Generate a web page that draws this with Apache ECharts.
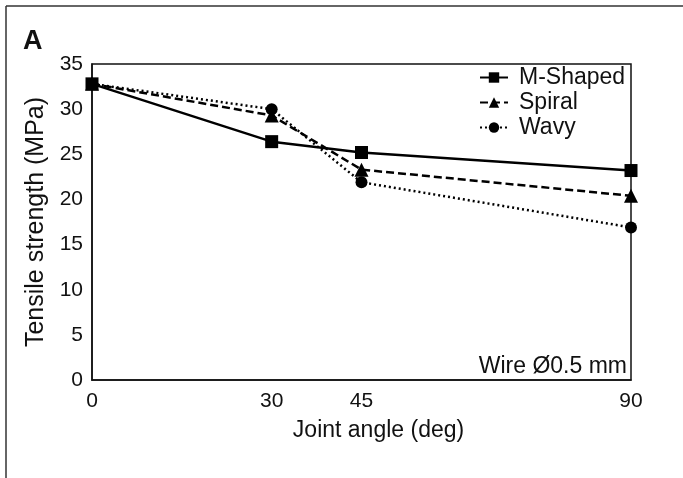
<!DOCTYPE html>
<html>
<head>
<meta charset="utf-8">
<script src="https://cdn.jsdelivr.net/npm/echarts@6/dist/echarts.min.js"></script>
<style>
  html, body { margin: 0; padding: 0; background: #fff; }
  #container { width: 683px; height: 478px; }
</style>
</head>
<body>
<div id="container"></div>
<script>
var dom = document.getElementById("container");
var myChart = echarts.init(dom);
var option;

// joint angles (deg) and the tick labels shown on the x axis
var angles = [0, 30, 45, 90];
var xTicks = [0, 30, 45, 90];

// tensile strength (MPa)
var mShaped = [32.8, 26.4, 25.2, 23.2];
var spiral = [32.8, 29.3, 23.3, 20.4];
var wavy = [32.8, 30.0, 21.9, 16.9];

var seriesNames = ["M-Shaped", "Spiral", "Wavy"];

var font = "'Liberation Sans', Arial, Helvetica, sans-serif";

function toPairs(values) {
  var out = [];
  for (var i = 0; i < angles.length; i++) {
    out.push([angles[i], values[i]]);
  }
  return out;
}

function makeSeries(name, values, lineType, symbol, size) {
  return {
    name: name,
    type: "line",
    data: toPairs(values),
    symbol: symbol,
    symbolSize: size,
    showSymbol: true,
    itemStyle: { color: "#000" },
    lineStyle: { color: "#000", width: 2.5, type: lineType },
    emphasis: { disabled: true },
    animation: false
  };
}

option = {
  backgroundColor: "#fff",
  animation: false,
  grid: {
    left: 92,
    right: 52,
    top: 64,
    bottom: 98,
    show: true,
    borderColor: "#111",
    borderWidth: 1.5
  },
  legend: {
    orient: "vertical",
    left: 479,
    top: 66,
    padding: 0,
    itemWidth: 28,
    itemHeight: 13,
    itemGap: 2,
    data: seriesNames,
    textStyle: { fontFamily: font, fontSize: 23, color: "#111", padding: [0, 0, 0, 6], lineHeight: 23 }
  },
  xAxis: {
    type: "value",
    min: 0,
    max: 90,
    name: "Joint angle (deg)",
    nameLocation: "middle",
    nameGap: 39,
    nameTextStyle: { fontFamily: font, fontSize: 23, color: "#111", padding: [0, 0, 0, 34] },
    splitLine: { show: false },
    axisTick: { show: false },
    axisLine: { lineStyle: { color: "#111", width: 1.5 } },
    axisLabel: {
      customValues: xTicks,
      fontFamily: font,
      fontSize: 21,
      color: "#111",
      margin: 11
    }
  },
  yAxis: {
    type: "value",
    min: 0,
    max: 35,
    interval: 5,
    name: "Tensile strength (MPa)",
    nameLocation: "middle",
    nameGap: 30,
    nameTextStyle: { fontFamily: font, fontSize: 25, color: "#111" },
    splitLine: { show: false },
    axisTick: { show: false },
    axisLine: { lineStyle: { color: "#111", width: 1.5 } },
    axisLabel: { fontFamily: font, fontSize: 21, color: "#111", margin: 9 }
  },
  graphic: [
    {
      type: "line",
      shape: { x1: 6, y1: 6, x2: 683, y2: 6 },
      style: { stroke: "#333", lineWidth: 1.5 }
    },
    {
      type: "line",
      shape: { x1: 6, y1: 6, x2: 6, y2: 478 },
      style: { stroke: "#333", lineWidth: 1.5 }
    },
    {
      type: "text",
      left: 23,
      top: 28,
      style: { text: "A", fontFamily: font, fontSize: 27, fontWeight: "bold", fill: "#111" }
    },
    {
      type: "text",
      right: 56,
      top: 355,
      style: { text: "Wire Ø0.5 mm", fontFamily: font, fontSize: 23, fill: "#111" }
    }
  ],
  series: [
    makeSeries(seriesNames[0], mShaped, "solid", "rect", 13),
    makeSeries(seriesNames[1], spiral, [8, 4], "triangle", 14),
    makeSeries(seriesNames[2], wavy, [2, 3], "circle", 12)
  ]
};

if (option && typeof option === "object") {
  myChart.setOption(option, true);
}
</script>
</body>
</html>
